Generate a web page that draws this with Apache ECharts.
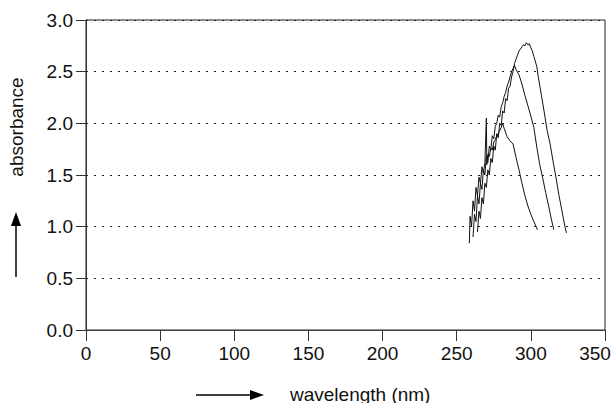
<!DOCTYPE html>
<html><head><meta charset="utf-8">
<script src="https://cdn.jsdelivr.net/npm/echarts@6/dist/echarts.min.js"></script>
<style>html,body{margin:0;padding:0;background:#fff}#c{width:615px;height:403px}</style>
</head><body><div id="c"></div>
<script>
// Tick labels
const xTicks = [0, 50, 100, 150, 200, 250, 300, 350];
const yTicks = [0, 0.5, 1.0, 1.5, 2.0, 2.5, 3.0];
const xAxisTitle = 'wavelength (nm)';
const yAxisTitle = 'absorbance';

// Spectrum 1 (tallest): [wavelength, absorbance]
const spectrumA = [
  [264,0.95],[265,1.15],[266,1.08],[267,1.28],[268,1.22],[269,1.42],[270,1.38],[271,1.55],[272,1.5],
  [273,1.66],[274,1.62],[275,1.78],[276,1.74],[277,1.9],[278,1.86],[279,2.0],[280,1.98],[281,2.12],
  [282,2.1],[283,2.24],[284,2.22],[285,2.34],[286,2.36],[287,2.45],[288,2.5],[289,2.58],[290,2.62],
  [291,2.66],[292,2.7],[293,2.72],[294,2.74],[295,2.76],[296,2.75],[297,2.78],[298,2.76],[299,2.77],
  [300,2.73],[301,2.7],[302,2.65],[304,2.55],[305,2.45],[307,2.28],[309,2.11],[311,1.93],[313,1.8],
  [315,1.63],[317,1.47],[319,1.3],[321,1.15],[323,1.0],[324,0.94]
];
// Spectrum 2 (middle)
const spectrumB = [
  [261,0.9],[262,1.12],[263,1.05],[264,1.3],[265,1.22],[266,1.42],[267,1.36],[268,1.55],[269,1.5],
  [270,1.68],[271,1.62],[272,1.78],[273,1.75],[274,1.88],[275,1.85],[276,1.97],[277,2.0],[278,2.08],
  [279,2.06],[280,2.16],[281,2.2],[282,2.26],[283,2.3],[284,2.36],[285,2.4],[286,2.45],[287,2.5],
  [288,2.53],[289,2.56],[290,2.52],[292,2.47],[294,2.38],[296,2.27],[298,2.17],[300,2.07],[302,1.96],
  [304,1.77],[306,1.6],[308,1.47],[310,1.33],[312,1.2],[314,1.06],[315.5,0.97]
];
// Spectrum 3 (lowest)
const spectrumC = [
  [258.5,0.84],[259,1.1],[260,1.0],[261,1.25],[262,1.15],[263,1.38],[264,1.3],[265,1.48],[266,1.42],
  [267,1.58],[268,1.52],[269,1.62],[270,2.05],[270.3,1.6],[271,1.7],[272,1.68],[273,1.76],[274,1.74],
  [275,1.82],[276,1.84],[277,1.88],[278,1.9],[279,1.93],[280,1.96],[281,2.0],[282,1.95],[284,1.87],
  [286,1.83],[288,1.8],[290,1.67],[292,1.55],[294,1.42],[296,1.3],[298,1.2],[300,1.12],[302,1.05],
  [304.5,0.97]
];

const FONT = 'Liberation Sans, Arial, sans-serif';
const chart = echarts.init(document.getElementById('c'), null, {renderer: 'svg'});
const mk = (d) => ({type: 'line', data: d, showSymbol: false, symbol: 'none',
  lineStyle: {color: '#111', width: 1}, animation: false});
const xMax = xTicks[xTicks.length - 1];
chart.setOption({
  backgroundColor: '#fff',
  animation: false,
  grid: {left: 86, right: 10, top: 20, bottom: 73, show: true, borderColor: '#222', borderWidth: 1, backgroundColor: 'transparent'},
  xAxis: {
    type: 'value', min: xTicks[0], max: xMax, interval: 50,
    axisLine: {show: true, onZero: false, lineStyle: {color: '#444', width: 1}},
    axisTick: {show: true, inside: false, length: 11, lineStyle: {color: '#333'}},
    axisLabel: {color: '#111', fontFamily: FONT, fontSize: 19, margin: 14,
      formatter: v => v === xMax ? '{m|' + v + '}' : String(v),
      rich: {m: {fontFamily: FONT, fontSize: 19, color: '#111', padding: [0, 20, 0, 0]}}},
    splitLine: {show: false}
  },
  yAxis: {
    type: 'value', min: yTicks[0], max: yTicks[yTicks.length - 1], interval: 0.5,
    axisLine: {show: true, lineStyle: {color: '#333', width: 1}},
    axisTick: {show: true, inside: false, length: 10, lineStyle: {color: '#333'}},
    axisLabel: {color: '#111', fontFamily: FONT, fontSize: 19, margin: 13,
      formatter: v => v.toFixed(1)},
    splitLine: {show: true, lineStyle: {color: '#222', type: [2, 6], width: 1}}
  },
  graphic: [
    {type: 'text', x: 16, y: 127, rotation: Math.PI / 2,
      style: {text: yAxisTitle, font: '19px ' + FONT, fill: '#111', align: 'center', verticalAlign: 'middle'}},
    {type: 'line', shape: {x1: 16, y1: 277, x2: 16, y2: 224}, style: {stroke: '#000', lineWidth: 1.5}},
    {type: 'polygon', shape: {points: [[16, 212], [11, 226], [21, 226]]}, style: {fill: '#000'}},
    {type: 'line', shape: {x1: 196, y1: 395, x2: 252, y2: 395}, style: {stroke: '#000', lineWidth: 1.5}},
    {type: 'polygon', shape: {points: [[264, 395], [250, 390], [250, 400]]}, style: {fill: '#000'}},
    {type: 'text', x: 290, y: 394,
      style: {text: xAxisTitle, font: '19px ' + FONT, fill: '#111', align: 'left', verticalAlign: 'middle'}}
  ],
  series: [mk(spectrumA), mk(spectrumB), mk(spectrumC)]
});
</script></body></html>
